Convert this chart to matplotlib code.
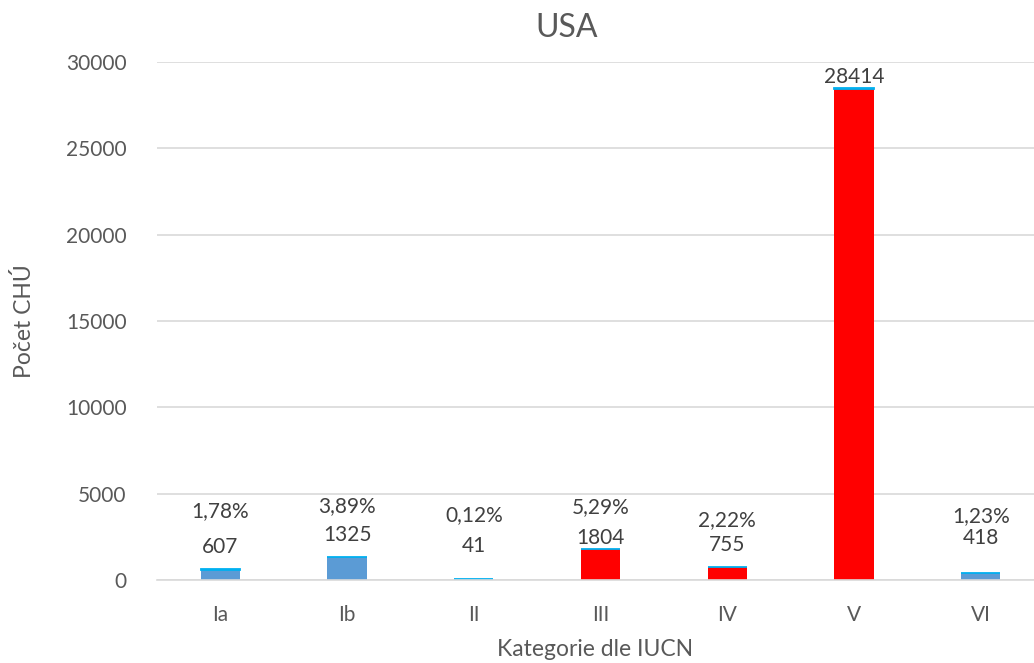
import matplotlib.pyplot as plt

plt.rcParams['font.family'] = ['Lato', 'DejaVu Sans']

# IUCN categories and protected area counts
categories = ['Ia', 'Ib', 'II', 'III', 'IV', 'V', 'VI']
counts = [607, 1325, 41, 1804, 755, 28414, 418]
shares = ['1,78%', '3,89%', '0,12%', '5,29%', '2,22%', '', '1,23%']
share_values = [1.78, 3.89, 0.12, 5.29, 2.22, 85.17, 1.23]
bar_colors = ['#5B9BD5', '#5B9BD5', '#5B9BD5', '#FF0000', '#FF0000', '#FF0000', '#5B9BD5']

# label offsets above the bar top (points)
count_off = [16, 16, 24, 8, 16, 9, 25]
share_off = [42, 37, 46, 30, 34, 32, 41]

text_c = '#595959'

fig = plt.figure(figsize=(10.34, 6.63), dpi=100)
ax = fig.add_axes([157 / 1034, 83 / 663, (1034 - 157) / 1034, (580 - 62) / 663])

x = range(len(categories))
ax.bar(x, counts, width=0.31, color=bar_colors, zorder=2)
# thin stacked share segment on top of each bar
ax.bar(x, share_values, bottom=counts, width=0.31, color='#00B0F0',
       edgecolor='#00B0F0', linewidth=1.3, zorder=2)

for i, c in enumerate(counts):
    ax.annotate(str(c), (i, c), xytext=(0, count_off[i]), textcoords='offset points',
                ha='center', va='center', fontsize=15, color='#404040')
    if shares[i]:
        ax.annotate(shares[i], (i, c), xytext=(0, share_off[i]), textcoords='offset points',
                    ha='center', va='center', fontsize=15, color='#404040')

ax.set_xlim(-0.5, 6.42)
ax.set_ylim(0, 30000)
ax.set_yticks(range(0, 30001, 5000))
ax.set_xticks(list(x))
ax.set_xticklabels(categories)
ax.yaxis.grid(True, color='#D9D9D9', linewidth=1.2, zorder=0)
ax.set_axisbelow(True)
for s in ['top', 'right', 'left']:
    ax.spines[s].set_visible(False)
ax.spines['bottom'].set_color('#D9D9D9')
ax.spines['bottom'].set_linewidth(1.2)
ax.tick_params(axis='both', length=0, labelsize=15, colors=text_c)
ax.tick_params(axis='y', pad=22)
ax.tick_params(axis='x', pad=18)

ax.set_xlabel('Kategorie dle IUCN', fontsize=16.5, color=text_c, labelpad=10)
ax.set_ylabel('Počet CHÚ', fontsize=16.5, color=text_c, labelpad=22)
fig.text(567 / 1034, 1 - 28 / 663, 'USA', ha='center', va='center', fontsize=23, color=text_c)

fig.savefig('out.png', dpi=100)
